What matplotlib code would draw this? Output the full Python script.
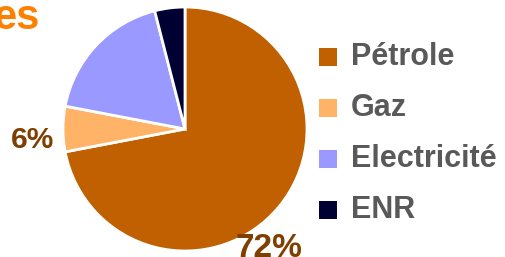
import matplotlib
matplotlib.use('Agg')
import matplotlib.pyplot as plt

plt.rcParams['font.family'] = ['Liberation Sans', 'DejaVu Sans']

# data
categories = ['Pétrole', 'Gaz', 'Electricité', 'ENR']
shares = [72, 6, 18, 4]
colors = ['#C06000', '#FFB366', '#9999FF', '#000033']
label_color = '#7F3F00'

W, H = 505, 257
fig = plt.figure(figsize=(W / 100, H / 100), dpi=100)
ax = fig.add_axes([0, 0, 1, 1])
ax.axis('off')

# pie (pixel coords, y up)
ax.pie(shares, colors=colors, startangle=90, counterclock=False,
       center=(185, H - 129), radius=122,
       wedgeprops=dict(edgecolor='white', linewidth=2))
ax.set_xlim(0, W)
ax.set_ylim(0, H)
ax.set_aspect('equal')

# percentage labels
ax.text(33, H - 140, f'{shares[1]}%', ha='center', va='center',
        fontsize=21.5, fontweight='bold', color=label_color)
ax.text(269, H - 257, f'{shares[0]}%', ha='center', va='baseline',
        fontsize=24, fontweight='bold', color=label_color)

# cut-off title fragment
ax.text(40, H - 29, 'es', ha='right', va='baseline',
        fontsize=30, fontweight='bold', color='#FF8000')

# legend
for i, (name, c) in enumerate(zip(categories, colors)):
    y = H - (57 + 51 * i)
    ax.scatter([328], [y], marker='s', s=150, color=c, linewidths=0)
    ax.text(351, y, name, ha='left', va='center', fontsize=22,
            fontweight='bold', color='#595959')

fig.savefig('out.png', dpi=100)
